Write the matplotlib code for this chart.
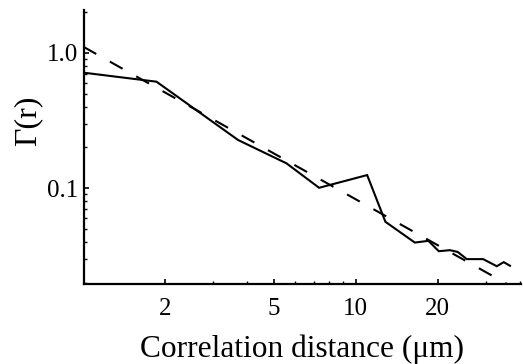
import numpy as np
import matplotlib
matplotlib.use("Agg")
import matplotlib.pyplot as plt
from matplotlib.ticker import FixedLocator, NullFormatter, FixedFormatter

# Data
r_um = [1.0, 1.854, 3.70, 5.57, 7.34, 11.02, 12.86, 16.5, 18.5, 20.2, 22.2,
        23.7, 25.6, 29.4, 33.0, 35.0, 36.9]
gamma = [0.715, 0.613, 0.2268, 0.1524, 0.1005, 0.1248, 0.0563, 0.0395, 0.0407,
         0.0341, 0.0347, 0.0337, 0.0298, 0.0298, 0.0264, 0.0283, 0.0266]

# Power-law fit (dashed line)
fit_amp = 1.11
fit_exp = -1.128
fit_range = [1.0, 40.5]

x_major = [2, 5, 10, 20]
x_major_labels = ["2", "5", "10", "20"]
x_minor = [3, 4, 6, 7, 8, 9, 30, 40]
y_major = [0.1, 1.0]
y_major_labels = ["0.1", "1.0"]
y_minor = [0.02, 0.03, 0.04, 0.05, 0.06, 0.07, 0.08, 0.09,
           0.2, 0.3, 0.4, 0.5, 0.6, 0.7, 0.8, 0.9, 2.0]

plt.rcParams['font.family'] = ['Liberation Serif', 'DejaVu Serif']

fig = plt.figure(figsize=(5.23, 3.64), dpi=100)
ax = fig.add_axes([83.5 / 523, 1 - 284.3 / 364, (521 - 83.5) / 523, (284.3 - 10) / 364])

fr = np.geomspace(fit_range[0], fit_range[1], 50)
ax.plot(fr, fit_amp * fr ** fit_exp, color='black', lw=1.5, dashes=(7, 7.5))
ax.plot(r_um, gamma, color='black', lw=1.5, solid_joinstyle='miter')

ax.set_xscale('log')
ax.set_yscale('log')
ax.set_xlim(1.0, 40.5)
ax.set_ylim(0.0194, 2.08)

ax.xaxis.set_major_locator(FixedLocator(x_major))
ax.xaxis.set_major_formatter(FixedFormatter(x_major_labels))
ax.xaxis.set_minor_locator(FixedLocator(x_minor))
ax.xaxis.set_minor_formatter(NullFormatter())
ax.yaxis.set_major_locator(FixedLocator(y_major))
ax.yaxis.set_major_formatter(FixedFormatter(y_major_labels))
ax.yaxis.set_minor_locator(FixedLocator(y_minor))
ax.yaxis.set_minor_formatter(NullFormatter())

for s in ['top', 'right']:
    ax.spines[s].set_visible(False)
for s in ['left', 'bottom']:
    ax.spines[s].set_linewidth(1.6)

ax.tick_params(which='major', direction='in', length=3.5, width=1.2, labelsize=18)
ax.tick_params(axis='x', which='major', pad=10)
ax.tick_params(axis='y', which='major', pad=4)
ax.tick_params(which='minor', direction='in', length=2.2, width=1.0)

ax.set_xlabel('Correlation distance (μm)', fontsize=22.6, labelpad=10)
ax.set_ylabel('Γ(r)', fontsize=23)
ax.yaxis.set_label_coords(-0.095, 0.595)

fig.savefig('out.png', dpi=100)
